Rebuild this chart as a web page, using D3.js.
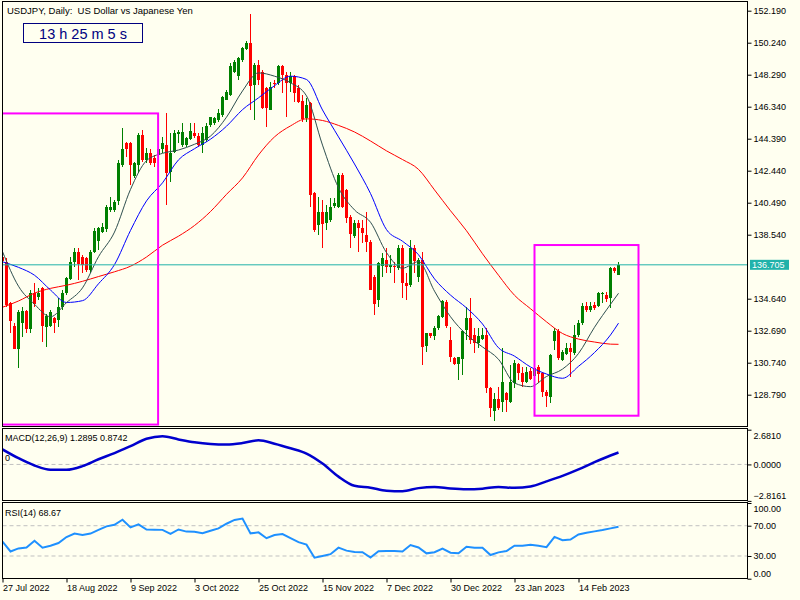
<!DOCTYPE html>
<html>
<head>
<meta charset="utf-8">
<script src="https://cdn.jsdelivr.net/npm/d3@7"></script>
<style>
  body { margin: 0; background: #fffff0; }
  svg text { font-family: "Liberation Sans", Arial, sans-serif; }
</style>
</head>
<body>
<div id="graf"></div>
<script>
// daily candles, bar 0 = 27 Jul 2022
const opens = [137.20,136.90,134.36,132.98,131.60,133.14,133.89,132.83,135.01,134.76,
135.27,132.94,132.98,133.44,133.34,134.16,134.97,135.88,136.90,137.51,
137.20,137.10,136.43,137.51,138.12,138.73,138.93,140.05,140.05,140.55,
142.79,144.11,144.15,142.08,142.79,144.62,143.09,143.50,143.19,143.40,
143.74,144.00,142.32,143.60,144.67,144.00,144.00,144.41,144.71,144.55,
144.00,144.31,145.22,145.32,145.53,145.83,146.79,147.05,148.47,148.21,
149.18,149.83,150.20,147.66,148.88,148.47,147.46,146.18,147.80,147.80,
148.82,148.27,147.80,148.21,147.46,146.71,145.63,146.54,141.06,139.13,
139.94,139.27,139.43,140.25,140.25,142.18,141.26,139.64,138.42,139.23,
138.93,138.52,138.11,135.98,134.56,136.59,137.00,136.59,136.63,136.49,
137.71,135.57,135.47,137.71,135.94,137.00,131.71,132.53,132.33,132.83,
133.54,134.46,132.12,131.00,130.66,131.00,132.69,133.44,132.43,131.92,
132.17,132.43,129.18,127.76,128.51,128.37,128.88,128.37,129.49,130.66,
130.14,129.59,130.26,129.89,130.46,130.09,128.94,128.67,132.09,132.70,
130.95,131.27,131.62,131.31,132.43,133.14,134.20,133.95,134.26,134.20,
134.93,134.87,134.67,136.49,136.11]
const highs = [137.40,137.10,134.46,133.14,133.95,134.16,133.95,135.17,135.58,135.27,
135.37,133.71,133.95,133.55,134.66,135.17,135.98,137.20,137.71,137.71,
137.30,137.20,137.61,138.93,139.03,139.23,140.35,140.86,140.66,143.09,
145.02,144.21,144.21,142.99,144.72,144.92,143.80,143.74,143.40,144.11,
144.51,145.93,144.72,144.92,144.92,145.32,144.51,145.32,145.32,144.71,
145.12,145.32,145.73,145.73,146.18,146.99,147.36,148.98,149.18,149.39,
149.99,150.36,151.99,148.98,149.18,148.57,147.52,147.86,147.97,148.88,
148.88,148.47,148.47,148.27,147.66,147.05,146.85,146.64,141.16,140.86,
140.65,140.35,140.75,140.75,142.28,142.28,141.30,139.74,139.43,139.43,
139.43,139.94,138.22,136.08,136.89,137.40,137.71,137.30,136.89,137.91,
137.91,136.18,138.22,137.91,137.10,137.50,132.57,132.57,132.97,133.65,
134.56,134.56,132.93,131.10,131.10,132.73,134.15,134.66,132.84,132.84,
132.84,132.84,129.28,128.88,129.28,131.62,128.98,130.60,130.91,130.70,
130.50,130.50,130.40,130.50,130.60,130.20,129.08,131.30,132.84,132.78,
131.52,131.92,131.92,133.04,133.35,134.36,134.46,134.46,134.46,135.07,
135.07,135.07,136.60,136.55,136.88]
const lows = [136.80,134.16,132.53,131.55,130.40,132.33,132.53,132.53,134.16,134.56,
132.02,131.72,132.90,132.57,132.94,133.95,134.87,135.78,136.59,135.78,
136.19,136.29,136.19,137.41,137.61,138.62,138.73,139.94,139.95,140.35,
142.69,143.30,141.57,141.98,142.28,142.99,142.89,142.79,142.69,143.30,
143.50,140.35,141.77,143.50,144.11,143.90,143.90,144.31,144.41,143.90,
143.54,144.21,145.12,145.22,145.43,145.73,146.75,146.99,148.37,147.97,
149.08,149.79,146.14,145.53,147.66,146.18,145.12,146.14,147.46,147.66,
147.15,145.69,147.25,146.64,146.54,145.43,145.43,140.25,138.72,138.52,
137.71,138.82,139.33,140.14,140.14,140.14,139.23,137.71,138.32,137.50,
138.01,137.50,135.17,133.65,134.15,135.98,136.18,136.22,135.62,136.39,
134.66,134.56,135.37,136.18,135.68,130.60,131.41,132.22,132.12,132.73,
133.44,132.83,130.80,130.60,129.68,129.99,132.13,131.90,131.31,131.62,
132.13,128.88,127.45,127.21,127.86,127.76,127.76,128.27,129.18,129.69,
129.28,129.49,129.69,129.69,129.49,128.67,128.06,128.27,131.52,130.91,
130.87,131.21,129.89,131.21,132.33,133.04,133.85,133.85,133.95,134.16,
134.36,134.46,134.06,136.19,136.07]
const closes = [136.95,134.26,133.24,131.60,133.85,133.89,132.77,135.01,134.36,135.01,
132.94,133.59,133.85,133.14,134.16,135.01,135.88,136.90,137.51,136.80,
136.69,136.39,137.51,138.79,138.93,139.03,140.25,140.25,140.55,142.89,
143.74,143.74,142.79,142.89,144.62,143.09,143.54,142.89,142.89,143.74,
144.11,142.28,143.50,144.76,144.82,144.82,144.45,144.88,144.51,144.00,
144.71,145.16,145.69,145.63,145.93,146.91,147.25,148.82,149.08,149.29,
149.89,150.20,147.60,148.88,147.97,146.30,146.24,147.56,147.72,148.82,
148.27,147.80,148.21,147.19,146.58,145.63,146.44,140.96,138.82,139.94,
139.23,139.94,140.25,140.45,142.18,140.25,139.54,138.62,139.23,138.93,
138.62,138.11,135.21,134.36,136.79,137.10,136.59,136.69,136.59,137.71,
135.57,135.41,137.71,136.89,137.00,131.71,132.53,132.33,132.83,133.58,
134.52,132.97,131.10,130.66,131.06,132.69,133.44,132.12,131.92,132.37,
132.43,129.18,127.96,128.51,127.96,129.59,128.43,129.59,130.70,130.14,
129.59,130.20,129.79,130.40,130.05,128.94,128.67,131.21,132.70,131.07,
131.42,131.62,131.35,132.43,133.18,134.20,133.95,134.20,134.06,134.97,
135.01,134.60,136.49,136.29,136.705]

// moving averages and MACD read every 4 bars
const maBars = [0,4,8,12,16,20,24,28,32,36,40,44,48,52,56,60,64,68,72,76,
80,84,88,92,96,100,104,108,112,116,120,124,128,132,136,140,144,148,152,154]
const maFast = [137.51,135.4,134.3,133.54,134.4,135.3,137.2,138.7,141.3,143.05,
143.5,143.7,144.05,144.55,145.7,147.3,148.4,148.2,147.8,147.0,
144.0,141.4,140.05,139.3,137.45,136.5,136.9,135.1,133.54,132.45,
131.7,130.95,129.5,129.28,129.9,130.35,131.3,132.9,134.3,134.97]
const maMid = [136.89,136.55,136.07,135.17,134.41,134.52,135.55,136.72,138.8,140.6,
141.7,143.1,143.78,144.36,145.15,146.16,146.88,147.62,148.2,148.0,
146.14,144.5,142.85,141.05,138.85,138.14,137.32,135.85,134.86,134.08,
133.1,131.65,131.14,130.48,130.05,129.79,130.52,131.36,132.43,133.15]
const maSlow = [134.12,134.5,134.98,135.27,135.46,135.70,135.99,136.28,136.62,137.18,
137.9,138.45,139.1,139.95,141.0,142.0,143.4,144.5,145.17,145.6,
145.5,145.2,144.8,144.25,143.65,143.12,142.52,141.27,140.0,138.78,
137.38,136.07,134.85,134.03,133.23,132.52,132.18,132.0,131.87,131.86]
const macd = [1.16,0.48,-0.08,-0.41,-0.41,-0.13,0.40,0.87,1.41,1.98,
2.18,1.93,1.71,1.58,1.54,1.65,1.86,1.60,1.25,0.84,
0.07,-0.94,-1.65,-1.80,-2.03,-2.07,-1.83,-1.74,-1.86,-1.92,
-1.87,-1.74,-1.81,-1.70,-1.31,-0.89,-0.39,0.17,0.69,0.92]

// RSI read every 2 bars
const rsiBars = d3.range(0, 155, 2)
const rsi = [48.9,36,40,41.2,50.2,41,43.6,47.1,55,59.7,
57.7,59.6,64.5,69.1,71.3,77.9,67.8,71.8,65,64.7,
64.5,59.2,65,62.2,62,60,63.3,66.4,72.6,77.6,
79.5,59.9,61.2,53.5,57.7,58.9,53.7,48.3,45,27.8,
30.1,32.4,41,37.1,35.2,35,28,36.3,36.6,36.6,
36,44.5,41.2,33.5,34.9,39.8,34.4,33.6,42.3,41,
41,31.3,34.8,36.5,43.6,43.6,44.8,43.5,41.6,55.2,
50.9,51.8,58.5,60.7,62.5,64.2,66.5,68.67]

// 136.590 sits under the bid label, so it is left out
const priceTicks = [152.19,150.24,148.29,146.34,144.39,142.44,140.49,138.54,134.64,132.69,130.74,128.79]
const macdTicks = [2.681, 0, -2.8161]
const rsiTicks = [100, 70, 30, 0]
const labelBars = [0,16,32,48,64,80,96,112,128,144]
const dateLabels = ["27 Jul 2022","18 Aug 2022","9 Sep 2022","3 Oct 2022","25 Oct 2022",
  "15 Nov 2022","7 Dec 2022","30 Dec 2022","23 Jan 2023","14 Feb 2023"]
const bid = 136.705
// boxes drawn on the chart (bar index / price)
const boxes = [
  { from: -3, to: 38.9, top: 145.93, bottom: 126.97 },
  { from: 133, to: 159, top: 137.91, bottom: 127.51 }
]

const L = 2.5, R = 747.5
const panels = [[1.5, 426.5], [428.5, 500.5], [502.5, 578.5]]
const bull = "#008000", bear = "#ff0000"

const svg = d3.select("#graf").append("svg")
  .attr("width", 800).attr("height", 600)

svg.append("rect").attr("width", 800).attr("height", 600).attr("fill", "#fffff0")

const x = d3.scaleLinear().domain([0, 154]).range([2.5, 618.5])
const y = d3.scaleLinear().domain([128.79, 152.19]).range([394.7, 10.7])
const yM = d3.scaleLinear().domain([-2.8161, 2.681]).range([500.9, 429.7])
const yR = d3.scaleLinear().domain([0, 100]).range([578.7, 503])

const defs = svg.append("defs")
panels.forEach((p, k) => {
  defs.append("clipPath").attr("id", "clip" + k)
    .append("rect")
    .attr("x", L + 0.5).attr("y", p[0] + 0.5)
    .attr("width", R - L - 1).attr("height", p[1] - p[0] - 1)
})

// ---- main panel
const gMain = svg.append("g").attr("clip-path", "url(#clip0)")

const bars = opens.map((o, i) => ({ i, o, h: highs[i], l: lows[i], c: closes[i] }))

gMain.selectAll("line.wick").data(bars).join("line")
  .attr("class", "wick")
  .attr("x1", d => x(d.i)).attr("x2", d => x(d.i))
  .attr("y1", d => Math.round(y(d.h))).attr("y2", d => Math.round(y(d.l)))
  .attr("stroke", d => d.c >= d.o ? bull : bear)
  .attr("shape-rendering", "crispEdges")

gMain.selectAll("rect.body").data(bars).join("rect")
  .attr("class", "body")
  .attr("x", d => x(d.i) - 1.5).attr("width", 3)
  .attr("y", d => Math.round(y(Math.max(d.o, d.c))))
  .attr("height", d => Math.max(1, Math.round(Math.abs(y(d.o) - y(d.c)))))
  .attr("fill", d => d.c >= d.o ? bull : bear)
  .attr("shape-rendering", "crispEdges")

const maLine = d3.line()
  .x((d, k) => x(maBars[k]))
  .y(d => y(d))
  .curve(d3.curveMonotoneX)

const mas = [[maSlow, "#ff0000"], [maMid, "#0000ff"], [maFast, "#2f4f4f"]]
mas.forEach(([vals, col]) => {
  gMain.append("path").attr("d", maLine(vals))
    .attr("fill", "none").attr("stroke", col).attr("stroke-width", 1)
})

gMain.append("line")
  .attr("x1", L).attr("x2", R)
  .attr("y1", y(bid)).attr("y2", y(bid))
  .attr("stroke", "#20b2aa").attr("stroke-width", 1)

gMain.selectAll("rect.box").data(boxes).join("rect")
  .attr("class", "box")
  .attr("x", d => x(d.from)).attr("width", d => x(d.to) - x(d.from))
  .attr("y", d => y(d.top)).attr("height", d => y(d.bottom) - y(d.top))
  .attr("fill", "none").attr("stroke", "#ff00ff").attr("stroke-width", 2)

svg.append("text")
  .attr("x", 7).attr("y", 14)
  .attr("font-size", 9.5)
  .style("white-space", "pre")
  .text("USDJPY, Daily:  US Dollar vs Japanese Yen")

svg.append("rect")
  .attr("x", 23.5).attr("y", 23.5).attr("width", 119).attr("height", 19)
  .attr("fill", "none").attr("stroke", "#000080")
svg.append("text")
  .attr("x", 83).attr("y", 38.5)
  .attr("text-anchor", "middle")
  .attr("font-size", 14.5)
  .attr("fill", "#000080")
  .text("13 h 25 m 5 s")

// ---- MACD panel
const gMacd = svg.append("g").attr("clip-path", "url(#clip1)")
gMacd.append("line")
  .attr("x1", L).attr("x2", R).attr("y1", yM(0)).attr("y2", yM(0))
  .attr("stroke", "#c0c0c0").attr("stroke-dasharray", "4,3")
gMacd.append("path")
  .attr("d", d3.line().x((d, k) => x(maBars[k])).y(d => yM(d)).curve(d3.curveMonotoneX)(macd))
  .attr("fill", "none").attr("stroke", "#0000cd").attr("stroke-width", 2.5)
svg.append("text").attr("x", 5).attr("y", 441).attr("font-size", 9)
  .text("MACD(12,26,9) 1.2895 0.8742")
svg.append("text").attr("x", 5).attr("y", yM(0) - 3).attr("font-size", 9).text("0")

// ---- RSI panel
const gRsi = svg.append("g").attr("clip-path", "url(#clip2)")
gRsi.selectAll("line.lvl").data([70, 30]).join("line")
  .attr("class", "lvl")
  .attr("x1", L).attr("x2", R).attr("y1", d => yR(d)).attr("y2", d => yR(d))
  .attr("stroke", "#c0c0c0").attr("stroke-dasharray", "4,3")
gRsi.append("path")
  .attr("d", d3.line().x((d, k) => x(rsiBars[k])).y(d => yR(d))(rsi))
  .attr("fill", "none").attr("stroke", "#1e90ff").attr("stroke-width", 2)
svg.append("text").attr("x", 5).attr("y", 516).attr("font-size", 9).text("RSI(14) 68.67")

// ---- frames
svg.selectAll("rect.frame").data(panels).join("rect")
  .attr("class", "frame")
  .attr("x", L).attr("y", d => d[0])
  .attr("width", R - L).attr("height", d => d[1] - d[0])
  .attr("fill", "none").attr("stroke", "#000").attr("stroke-width", 1)

// ---- axes
const styleAxis = g => g.attr("font-size", 9)
  .attr("font-family", "'Liberation Sans', Arial, sans-serif")
  .call(a => a.select(".domain").remove())

svg.append("g").attr("transform", `translate(${R},0)`)
  .call(d3.axisRight(y).tickValues(priceTicks).tickFormat(d3.format(".3f")).tickSize(4).tickPadding(2))
  .call(styleAxis)

svg.append("g").attr("transform", `translate(${R},0)`)
  .call(d3.axisRight(yM).tickValues(macdTicks).tickFormat(d3.format(".4f")).tickSize(4).tickPadding(2))
  .call(styleAxis)
  .call(g => g.selectAll("text").attr("dy", d => d > 1 ? "0.95em" : d < -1 ? "-0.25em" : "0.32em"))

svg.append("g").attr("transform", `translate(${R},0)`)
  .call(d3.axisRight(yR).tickValues(rsiTicks).tickFormat(d3.format(".2f")).tickSize(4).tickPadding(2))
  .call(styleAxis)
  .call(g => g.selectAll("text").attr("dy", d => d === 100 ? "0.95em" : d === 0 ? "-0.2em" : "0.32em"))

svg.append("g").attr("transform", `translate(0,${panels[2][1]})`)
  .call(d3.axisBottom(x).tickValues(labelBars).tickFormat((d, k) => dateLabels[k]).tickSize(4).tickPadding(2))
  .call(styleAxis)
  .call(g => g.selectAll("text").attr("text-anchor", "start").attr("x", 0))

// bid label
svg.append("rect")
  .attr("x", 750).attr("y", y(bid) - 5).attr("width", 39).attr("height", 10)
  .attr("fill", "#20b2aa")
svg.append("text")
  .attr("x", 752).attr("y", y(bid) + 3.5)
  .attr("font-size", 9).attr("fill", "#fff")
  .text(d3.format(".3f")(bid))
</script>
</body>
</html>
